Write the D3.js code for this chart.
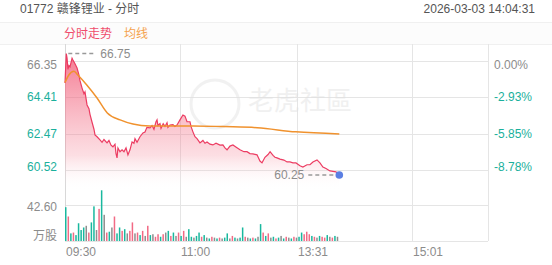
<!DOCTYPE html>
<html lang="zh">
<head>
<meta charset="utf-8">
<title>01772 赣锋锂业 - 分时</title>
<script src="https://cdn.jsdelivr.net/npm/d3@7"></script>
<style>
  body { margin: 0; background: #fff; }
  svg text { font-family: "Liberation Sans", Arial, "Noto Sans CJK SC", sans-serif; }
</style>
</head>
<body>
<svg id="chart" width="552" height="265"></svg>
<script>
// ---- data ----
const prevClose = 66.35;
const priceTicks = [66.35, 64.41, 62.47, 60.52];
const pctTicks = ["0.00%", "-2.93%", "-5.85%", "-8.78%"];
const volTicks = [42.60];
const timeLabels = ["09:30", "11:00", "13:31", "15:01"];
const timeLabelMinutes = [0, 90, 181, 271];   // trading minutes since 09:30 (lunch skipped)
const totalMinutes = 330;

// price: [minute, price]
const priceMinutes = [0, 1, 1.6, 2.3, 3.1, 3.9, 5.5, 6.2, 7.8, 9.4, 10.9, 11.7, 13.3, 14.8, 15.6, 17.2, 18.7, 19.5,
  21, 22.6, 23.4, 25, 27.3, 28.9, 30.4, 32.8, 34.3, 35.9, 37.4, 39, 39.8, 40.6, 41.3, 42.9, 44.5, 46, 47.6, 49.1,
  50.7, 52.3, 53.8, 54.6, 56.2, 58.5, 60.8, 62.4, 63.9, 66.3, 67.9, 69.4, 71, 71.8, 72.5, 74.1, 74.9, 76.6, 78,
  79.6, 80.3, 81.9, 84.2, 85.8, 87.4, 89.7, 92, 93.6, 95.2, 97.5, 98.3, 99.8, 101.4, 103, 105.3, 107.6, 109.2,
  110.8, 113.1, 115.4, 117.8, 120.9, 123.2, 124.8, 126.4, 128.7, 131, 133.3, 136.5, 139.6, 142, 144.3, 146.6,
  149.8, 152.1, 153.7, 156, 158.4, 160, 162.3, 163.8, 165.4, 167.7, 170.8, 173.2, 175.5, 177.8, 180.2, 183.3,
  185.6, 188.8, 191.1, 193.4, 196.6, 198.9, 201.2, 203.6, 206.7, 209.1, 211.4, 213, 214];
const priceValues = [65.17, 66.75, 66.5, 65.9, 66.1, 66.03, 66.5, 66.4, 66.2, 65.98, 65.6, 65.3, 64.9, 64.6, 64.7,
  64.0, 63.8, 63.5, 63.1, 62.7, 62.4, 62.3, 62.13, 62.0, 62.15, 61.97, 62.1, 61.85, 61.76, 61.9, 61.4, 61.17, 61.7,
  61.5, 61.6, 61.5, 61.7, 61.33, 61.6, 62.02, 61.95, 62.2, 62.0, 62.3, 62.5, 62.55, 62.8, 62.77, 62.9, 62.7, 63.1,
  63.2, 62.9, 63.0, 62.75, 63.0, 62.85, 63.05, 62.8, 62.93, 62.95, 62.85, 62.93, 63.2, 63.46, 63.4, 63.1, 63.1,
  62.85, 62.56, 62.3, 62.2, 61.97, 62.1, 61.95, 62.02, 61.9, 61.86, 61.95, 61.85, 61.86, 61.7, 61.6, 61.8, 61.86,
  61.75, 61.6, 61.5, 61.5, 61.4, 61.38, 61.33, 61.0, 60.9, 61.2, 61.35, 61.5, 61.3, 61.2, 61.17, 61.1, 61.05,
  60.95, 60.95, 60.9, 60.9, 60.75, 60.68, 60.8, 60.8, 60.95, 61.06, 60.9, 60.68, 60.6, 60.47, 60.45, 60.42, 60.3,
  60.25];

// average line: [minute, price]
const avgMinutes = [0, 3, 7, 10, 17, 25, 33, 43, 53, 66, 100, 124, 150, 180, 214];
const avgValues = [65.2, 65.6, 65.8, 65.6, 65.07, 64.37, 63.57, 63.2, 62.98, 62.88, 62.88, 62.84, 62.78, 62.56, 62.45];

// volume in 万股, one bar per 2 minutes; u = up, d = down, f = flat
const volValues = [40, 29, 9, 10, 7, 21, 13, 16, 18, 10, 22, 41, 13, 38, 60, 31, 10, 11, 16, 29, 9, 16, 12, 14, 9,
  12, 22, 9, 10, 7, 12, 6, 18, 7, 8, 5, 8, 5, 8, 10, 12, 6, 10, 6, 10, 6, 12, 5, 14, 5, 4, 6, 10, 5, 7, 4, 3, 5, 4,
  3, 4, 3, 4, 9, 3, 6, 4, 3, 4, 16, 5, 4, 3, 4, 3, 5, 20, 10, 6, 9, 4, 5, 3, 4, 6, 3, 5, 4, 3, 5, 4, 5, 10, 8, 11, 8,
  6, 5, 4, 6, 5, 4, 7, 5, 4, 6, 5];
const volDirs = ["dududdddfu", "ddfudfudfu", "ddudfuufud", "ufudfuuduf", "dudfudufdd", "fddudfdufd",
  "ufddfudfdd", "ufdudfdudu", "fdudfdufdu", "fdduuudufd", "uudfudf"].join("").split("");

const lastPrice = 60.25, highPrice = 66.75;

// ---- layout ----
const svg = d3.select("#chart");
const left = 65, right = 488;
const plotTop = 44, volBottom = 241;

const x = d3.scaleLinear().domain([0, totalMinutes]).range([left, right]);
const y = d3.scaleLinear().domain([60.52, 66.35]).range([170, 61]);
const yVol = d3.scaleLinear().domain([0, 42.6]).range([volBottom, 205]);

const gray = "#8c8c8c", teal = "#1bb09c", red = "#ec3c62", orange = "#f0922e";
const volColor = { u: "#f26a85", d: "#19b89e", f: "#8e8e8e" };

// header
svg.append("text").attr("x", 20).attr("y", 13).attr("font-size", 12).attr("fill", "#555")
  .text("01772 赣锋锂业 - 分时");
svg.append("text").attr("x", 535).attr("y", 13).attr("font-size", 12).attr("fill", "#555")
  .attr("text-anchor", "end").text("2026-03-03  14:04:31");

svg.append("rect").attr("x", 0).attr("y", 22).attr("width", 552).attr("height", 22).attr("fill", "#fcfcfc");
svg.append("line").attr("x1", 0).attr("x2", 552).attr("y1", 22.5).attr("y2", 22.5).attr("stroke", "#f0f0f0");
svg.append("line").attr("x1", 0).attr("x2", 552).attr("y1", 44.5).attr("y2", 44.5).attr("stroke", "#f0f0f0");
svg.append("text").attr("x", 64).attr("y", 38).attr("font-size", 12).attr("fill", "#ef4d6c").text("分时走势");
svg.append("text").attr("x", 124).attr("y", 38).attr("font-size", 12).attr("fill", "#f5a24c").text("均线");

// grid
const grid = svg.append("g").attr("stroke", "#e5e5e5").attr("stroke-width", 1);
grid.selectAll(".h").data(priceTicks).join("line")
  .attr("x1", left).attr("x2", right)
  .attr("y1", d => Math.round(y(d)) + 0.5).attr("y2", d => Math.round(y(d)) + 0.5);
grid.selectAll(".v").data(volTicks).join("line")
  .attr("x1", left).attr("x2", right)
  .attr("y1", d => Math.round(yVol(d)) + 0.5).attr("y2", d => Math.round(yVol(d)) + 0.5);
grid.append("line").attr("x1", left).attr("x2", right).attr("y1", volBottom + 0.5).attr("y2", volBottom + 0.5);
grid.selectAll(".t").data(timeLabelMinutes.slice(1).concat([totalMinutes])).join("line")
  .attr("x1", d => Math.round(x(d)) + 0.5).attr("x2", d => Math.round(x(d)) + 0.5)
  .attr("y1", plotTop).attr("y2", volBottom);
grid.append("line").attr("x1", left + 0.5).attr("x2", left + 0.5).attr("y1", plotTop).attr("y2", volBottom)
  .attr("stroke", "#d8d8d8");

// watermark
const wm = svg.append("g").attr("opacity", 0.45);
wm.append("circle").attr("cx", 215).attr("cy", 104).attr("r", 24).attr("fill", "none")
  .attr("stroke", "#e2e2e2").attr("stroke-width", 3);
wm.append("text").attr("x", 248).attr("y", 110).attr("font-size", 26).attr("fill", "#e0e0e0")
  .attr("font-family", "Noto Sans CJK SC").text("老虎社區");

// price area + line
const priceData = priceMinutes.map((m, i) => [m, priceValues[i]]);
const avgData = avgMinutes.map((m, i) => [m, avgValues[i]]);

const defs = svg.append("defs");
const grad = defs.append("linearGradient").attr("id", "fillGrad")
  .attr("gradientUnits", "userSpaceOnUse").attr("x1", 0).attr("x2", 0).attr("y1", 52).attr("y2", 190);
grad.append("stop").attr("offset", 0).attr("stop-color", "#f04a6a").attr("stop-opacity", 0.75);
grad.append("stop").attr("offset", 0.75).attr("stop-color", "#f47c90").attr("stop-opacity", 0.25);
grad.append("stop").attr("offset", 1).attr("stop-color", "#ffffff").attr("stop-opacity", 0);

svg.append("path").datum(priceData)
  .attr("fill", "url(#fillGrad)")
  .attr("d", d3.area().x(d => x(d[0])).y0(190).y1(d => y(d[1])));

svg.append("path").datum(priceData)
  .attr("fill", "none").attr("stroke", red).attr("stroke-width", 1.2)
  .attr("d", d3.line().x(d => x(d[0])).y(d => y(d[1])));

svg.append("path").datum(avgData)
  .attr("fill", "none").attr("stroke", orange).attr("stroke-width", 1.5)
  .attr("d", d3.line().curve(d3.curveMonotoneX).x(d => x(d[0])).y(d => y(d[1])));

// volume bars
svg.append("g").selectAll("rect").data(volValues).join("rect")
  .attr("x", (d, i) => x(i * 2))
  .attr("width", 1.5)
  .attr("y", d => yVol(d))
  .attr("height", d => volBottom - yVol(d))
  .attr("fill", (d, i) => volColor[volDirs[i]] || volColor.f);

// high marker
svg.append("line").attr("x1", x(1) + 2).attr("x2", x(1) + 30)
  .attr("y1", y(highPrice)).attr("y2", y(highPrice))
  .attr("stroke", "#999").attr("stroke-width", 1.5).attr("stroke-dasharray", "4,3");
svg.append("text").attr("x", x(1) + 34).attr("y", y(highPrice) + 4).attr("font-size", 12).attr("fill", gray)
  .text(highPrice.toFixed(2));

// last marker
const lx = x(214), ly = y(lastPrice);
svg.append("line").attr("x1", lx - 31).attr("x2", lx - 3).attr("y1", ly).attr("y2", ly)
  .attr("stroke", "#999").attr("stroke-width", 1.5).attr("stroke-dasharray", "4,3");
svg.append("text").attr("x", lx - 35).attr("y", ly + 4).attr("font-size", 12).attr("fill", gray)
  .attr("text-anchor", "end").text(lastPrice.toFixed(2));
svg.append("circle").attr("cx", lx).attr("cy", ly).attr("r", 3.8).attr("fill", "#5b7fe3");

// left price labels
const labelShift = [4, 0, 0, -3];
svg.append("g").selectAll("text").data(priceTicks).join("text")
  .attr("x", 57).attr("y", (d, i) => y(d) + 4 + labelShift[i])
  .attr("text-anchor", "end").attr("font-size", 12)
  .attr("fill", d => d === prevClose ? gray : teal)
  .text(d => d.toFixed(2));

// right pct labels
svg.append("g").selectAll("text").data(pctTicks).join("text")
  .attr("x", 494).attr("y", (d, i) => y(priceTicks[i]) + 4 + labelShift[i])
  .attr("font-size", 12)
  .attr("fill", (d, i) => i === 0 ? gray : teal)
  .text(d => d);

// volume labels
svg.append("text").attr("x", 57).attr("y", yVol(42.6) + 6).attr("text-anchor", "end")
  .attr("font-size", 12).attr("fill", gray).text("42.60");
svg.append("text").attr("x", 57).attr("y", 240).attr("text-anchor", "end")
  .attr("font-size", 12).attr("fill", gray).text("万股");

// time labels
svg.append("g").selectAll("text").data(timeLabels).join("text")
  .attr("x", (d, i) => Math.round(x(timeLabelMinutes[i])) + 1)
  .attr("y", 256).attr("font-size", 12).attr("fill", gray)
  .text(d => d);
</script>
</body>
</html>
